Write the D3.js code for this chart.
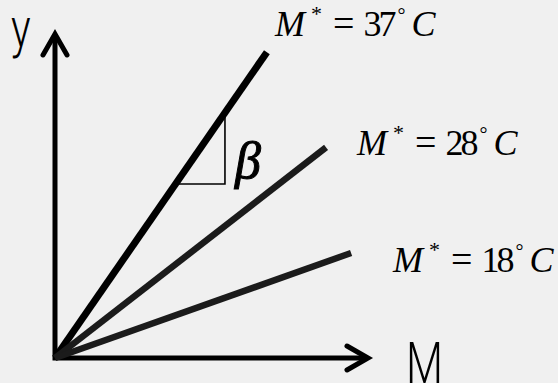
<!DOCTYPE html>
<html>
<head>
<meta charset="utf-8">
<script src="https://cdn.jsdelivr.net/npm/d3@7"></script>
<style>
  html, body { margin: 0; padding: 0; background: #f0f0f0; }
  svg { display: block; }
</style>
</head>
<body>
<svg id="chart" width="558" height="383"></svg>
<script>
// Temperature settings and the end point of each response line (axis units 0..10)
const temps = ["37", "28", "18"];
const endM = [6.77, 8.66, 9.46];
const endY = [9.44, 6.50, 3.24];
const axisMax = 10;
const axisLabels = { x: "M", y: "y" };
const slopeLabel = "\u03B2";

// Where each temperature label sits, in axis units
const labelAt = [[7.03, 9.94], [9.65, 6.27], [10.80, 2.65]];

const svg = d3.select("#chart");
const width = 558, height = 383;

svg.append("rect").attr("width", width).attr("height", height).attr("fill", "#f0f0f0");

const x = d3.scaleLinear().domain([0, axisMax]).range([55, 368]);
const y = d3.scaleLinear().domain([0, axisMax]).range([358, 34]);

const line = d3.line().x(d => x(d[0])).y(d => y(d[1]));

// Slope triangle on the steepest line
const slope = endY[0] / endM[0];
const triY = 5.37, triX2 = 5.43;
svg.append("path")
  .attr("d", line([[triY / slope, triY], [triX2, triY], [triX2, triX2 * slope]]))
  .attr("fill", "none")
  .attr("stroke", "#000")
  .attr("stroke-width", 1.6);

// Axes
svg.append("path")
  .attr("d", line([[0, axisMax], [0, 0], [axisMax, 0]]))
  .attr("fill", "none")
  .attr("stroke", "#000")
  .attr("stroke-width", 5)
  .attr("stroke-linejoin", "miter");

// Arrowheads (open chevrons)
const headBack = 21, headSide = 12;
svg.append("path")
  .attr("d", `M${x(0) - headSide},${y(axisMax) + headBack} L${x(0)},${y(axisMax)} L${x(0) + headSide},${y(axisMax) + headBack}`)
  .attr("fill", "none").attr("stroke", "#000").attr("stroke-width", 5)
  .attr("stroke-linecap", "round").attr("stroke-linejoin", "miter");
svg.append("path")
  .attr("d", `M${x(axisMax) - headBack},${y(0) - headSide} L${x(axisMax)},${y(0)} L${x(axisMax) - headBack},${y(0) + headSide}`)
  .attr("fill", "none").attr("stroke", "#000").attr("stroke-width", 5)
  .attr("stroke-linecap", "round").attr("stroke-linejoin", "miter");

// Response lines
temps.forEach((t, i) => {
  svg.append("path")
    .attr("d", line([[0, 0], [endM[i], endY[i]]]))
    .attr("fill", "none")
    .attr("stroke", i === 0 ? "#000" : "#1b1b1b")
    .attr("stroke-width", i === 0 ? 7 : 6.5)
    .attr("stroke-linecap", "butt");
});

// Temperature labels: M* = T° C
const serif = "'Liberation Serif', 'Times New Roman', serif";
temps.forEach((t, i) => {
  const txt = svg.append("text")
    .attr("x", x(labelAt[i][0]))
    .attr("y", y(labelAt[i][1]))
    .attr("font-family", serif)
    .attr("font-size", 36)
    .attr("fill", "#000");
  txt.append("tspan").attr("font-style", "italic").text("M");
  txt.append("tspan").attr("font-size", 22).attr("dy", -15).attr("dx", 6).text("*");
  txt.append("tspan").attr("dy", 15).attr("dx", 11).attr("font-size", 38).text("=");
  txt.append("tspan").attr("dx", 9).attr("textLength", 33).text(t);
  txt.append("tspan").attr("font-size", 20).attr("dy", -14).attr("dx", 4).text("\u00B0");
  txt.append("tspan").attr("font-style", "italic").attr("dy", 14).attr("dx", 6).text("C");
});

// Slope symbol
svg.append("text")
  .attr("x", 235).attr("y", 178)
  .attr("font-family", serif)
  .attr("font-style", "italic")
  .attr("font-size", 52)
  .attr("fill", "#000")
  .attr("stroke", "#000").attr("stroke-width", 1)
  .text(slopeLabel);

// Axis titles
const sans = "Roboto, 'DejaVu Sans', sans-serif";
svg.append("text")
  .attr("transform", `translate(11,47) scale(0.75,1)`)
  .attr("font-family", sans).attr("font-weight", 300)
  .attr("font-size", 55).attr("fill", "#000")
  .text(axisLabels.y);
svg.append("text")
  .attr("transform", `translate(406,383) scale(0.75,1)`)
  .attr("font-family", sans).attr("font-weight", 300)
  .attr("font-size", 57).attr("fill", "#000")
  .text(axisLabels.x);
</script>
</body>
</html>
